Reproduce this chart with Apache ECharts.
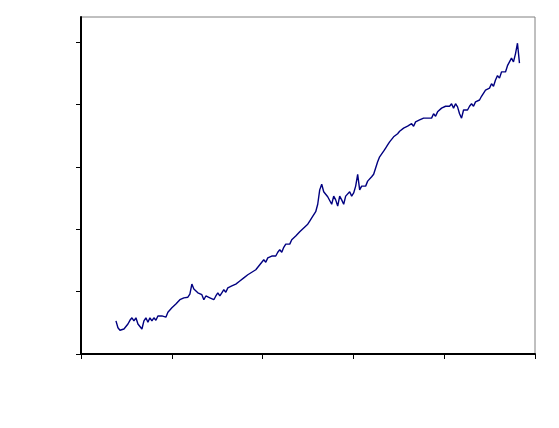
<!DOCTYPE html>
<html>
<head>
<meta charset="utf-8">
<script src="https://cdn.jsdelivr.net/npm/echarts@6/dist/echarts.min.js"></script>
<style>html,body{margin:0;padding:0;background:#fff}#c{width:559px;height:428px}</style>
</head>
<body>
<div id="c"></div>
<script>
const xStart = 38.5;
const xStep = 2.2;
const values = [53,42,38,40,40,43,48,54,58,53,58,48,51,40,53,58,51,58,53,58,54,61,58,61,64,59,67,64,74,71,80,79,87,85,90,87,91,96,112,104,101,98,98,95,87,93,90,90,93,87,93,98,93,98,103,99,106,103,109,106,112,109,117,115,122,120,127,125,131,128,135,138,143,146,151,147,154,154,157,160,157,163,167,163,171,176,179,176,183,186,189,186,196,199,202,205,208,213,218,221,228,240,263,272,260,256,252,250,240,253,247,237,253,247,240,253,250,260,253,258,269,288,263,269,272,269,277,280,284,288,298,308,316,319,325,330,335,340,343,348,345,353,357,356,362,359,365,362,369,365,372,369,375,372,378,375,378,381,378,385,381,388,391,394,391,397,394,397,401,394,401,396,385,378,391,394,391,397,401,397,404,401,407,413,410,423,420,426,433,429,439,446,442,452,455,452,462,465,474,468,481,498,466];
const xMin = 0, xMax = 500, xInterval = 100;
const yMin = 0, yMax = 540, yInterval = 100;
const yTicks = [0, 100, 200, 300, 400, 500];

const data = values.map((v, i) => [xStart + i * xStep, v]);
const chart = echarts.init(document.getElementById('c'), null, {renderer: 'canvas'});
chart.setOption({
  animation: false,
  backgroundColor: '#ffffff',
  grid: {left: 81, top: 17, right: 24, bottom: 74, show: true, borderColor: '#808080', borderWidth: 1, backgroundColor: 'transparent'},
  xAxis: {
    type: 'value', min: xMin, max: xMax, interval: xInterval,
    axisLine: {show: true, lineStyle: {color: '#000', width: 2}},
    axisTick: {show: true, inside: false, length: 5, lineStyle: {color: '#000', width: 1}},
    axisLabel: {show: false},
    splitLine: {show: false}
  },
  yAxis: {
    type: 'value', min: yMin, max: yMax, interval: yInterval,
    axisLine: {show: true, lineStyle: {color: '#000', width: 2}},
    axisTick: {show: true, inside: false, length: 5, customValues: yTicks, lineStyle: {color: '#000', width: 1}},
    axisLabel: {show: false},
    splitLine: {show: false}
  },
  series: [{
    type: 'line', data: data, showSymbol: false, symbol: 'none',
    lineStyle: {color: '#000080', width: 1.4}
  }]
});
</script>
</body>
</html>
